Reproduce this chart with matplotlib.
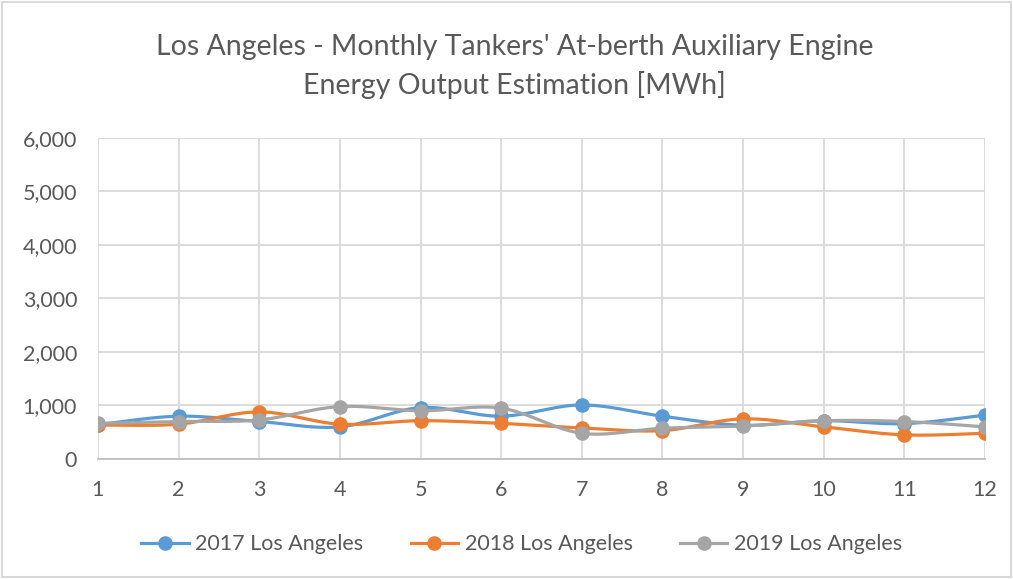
import numpy as np
import matplotlib.pyplot as plt
from matplotlib.ticker import FuncFormatter

months = [1, 2, 3, 4, 5, 6, 7, 8, 9, 10, 11, 12]
la_2017 = [640, 800, 700, 600, 960, 800, 1010, 800, 630, 715, 660, 820]
la_2018 = [635, 650, 880, 650, 715, 665, 580, 530, 750, 600, 450, 480]
la_2019 = [665, 700, 730, 980, 900, 950, 480, 575, 615, 715, 700, 600]
labels = ["2017 Los Angeles", "2018 Los Angeles", "2019 Los Angeles"]
colors = ["#5b9bd5", "#ed7d31", "#a5a5a5"]

plt.rcParams['font.family'] = ['Lato', 'DejaVu Sans']


def smooth(x, y, n=20):
    # catmull-rom style smoothing like excel's "smoothed line"
    x = np.asarray(x, float)
    y = np.asarray(y, float)
    px = np.concatenate([[x[0]], x, [x[-1]]])
    py = np.concatenate([[y[0]], y, [y[-1]]])
    xs, ys = [], []
    t = np.linspace(0, 1, n)
    for i in range(1, len(px) - 2):
        p0, p1, p2, p3 = (np.array([px[j], py[j]]) for j in range(i - 1, i + 3))
        c1 = p1 + (p2 - p0) / 6
        c2 = p2 - (p3 - p1) / 6
        pts = ((1 - t) ** 3)[:, None] * p1 + (3 * (1 - t) ** 2 * t)[:, None] * c1 \
            + (3 * (1 - t) * t ** 2)[:, None] * c2 + (t ** 3)[:, None] * p2
        xs.extend(pts[:, 0])
        ys.extend(pts[:, 1])
    return xs, ys


fig = plt.figure(figsize=(10.13, 5.79), dpi=100)
ax = fig.add_axes([0.0967, 0.2073, 0.8757, 0.5544])

for data, lab, col in zip([la_2017, la_2018, la_2019], labels, colors):
    sx, sy = smooth(months, data)
    ax.plot(sx, sy, color=col, lw=2.3, solid_capstyle='round')
    ax.plot(months, data, 'o', color=col, ms=9.5)
    ax.plot([], [], '-o', color=col, lw=2.3, ms=9.5, label=lab)

ax.set_xlim(1, 12)
ax.set_ylim(0, 6000)
ax.set_xticks(months)
ax.set_yticks(range(0, 6001, 1000))
ax.yaxis.set_major_formatter(FuncFormatter(lambda v, p: f"{int(v):,}"))
ax.grid(True, color="#d9d9d9", lw=1.3)
ax.set_axisbelow(True)
for s in ["top", "right", "left"]:
    ax.spines[s].set_visible(False)
ax.spines["bottom"].set_color("#bfbfbf")
ax.spines["bottom"].set_linewidth(1.3)
ax.tick_params(length=0, labelsize=15.5, labelcolor="#595959")
ax.tick_params(axis='x', pad=15)
ax.tick_params(axis='y', pad=15)

fig.text(0.508, 0.885, "Los Angeles - Monthly Tankers' At-berth Auxiliary Engine\nEnergy Output Estimation [MWh]",
         ha='center', va='center', fontsize=20.5, color="#595959", linespacing=1.5)

fig.legend(loc='center', bbox_to_anchor=(0.515, 0.06), ncol=3, frameon=False,
           fontsize=15.5, labelcolor="#595959", handlelength=2.2, columnspacing=2.2,
           handletextpad=0.3)

fig.patches.append(plt.Rectangle((0.002, 0.004), 0.996, 0.992, transform=fig.transFigure,
                                 fill=False, edgecolor="#d9d9d9", lw=1.5))

fig.savefig("out.png", dpi=100)
